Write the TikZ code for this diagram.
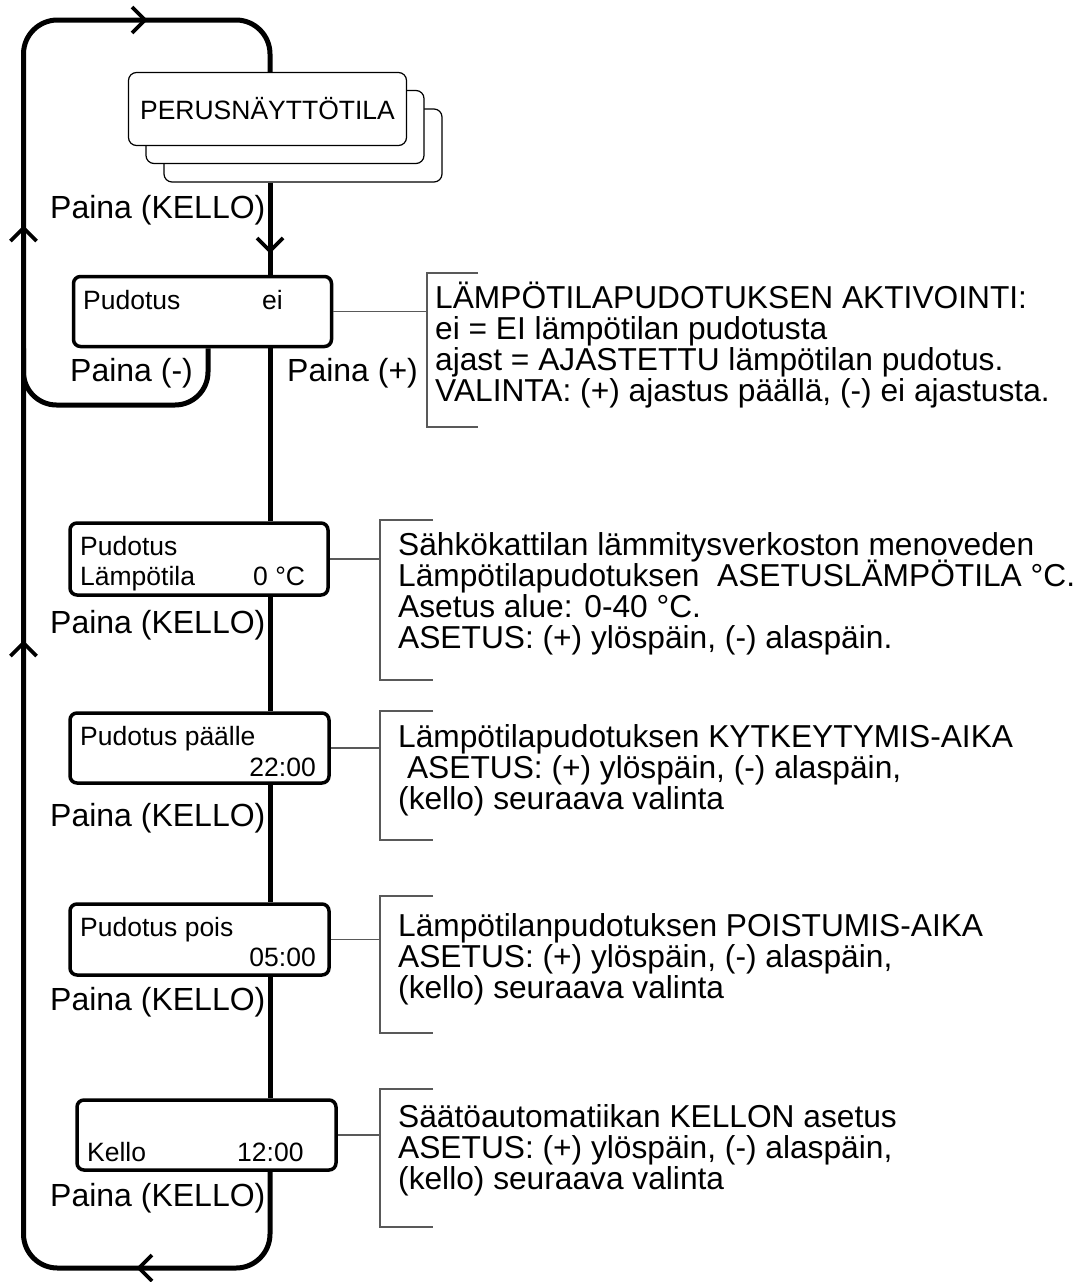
\documentclass[tikz,border=0pt]{standalone}
\usepackage{fontspec}
\setmainfont{Liberation Sans}
\usepackage{tikz}
\usetikzlibrary{calc,positioning}
\newcommand{\notefont}{\fontsize{31.7}{31}\selectfont\lineskiplimit=-20pt\relax}

\begin{document}
\begin{tikzpicture}[x=1pt,y=-1pt,
    loopline/.style={line width=5pt,rounded corners=34pt},
    chevron/.style={line width=3.8pt},
    lcd/.style={draw,line width=3.5pt,rounded corners=7pt,fill=white,inner sep=0pt},
    stackbox/.style={draw,line width=1.2pt,rounded corners=8pt,fill=white,
      minimum width=278pt,minimum height=73pt,inner sep=0pt},
    lcdtext/.style={inner sep=0pt,font=\fontsize{26.5}{30}\selectfont},
    paina/.style={inner sep=0pt,font=\fontsize{32}{32}\selectfont},
    note/.style={inner sep=0pt,align=left,font=\notefont},
    brk/.style={line width=1.5pt,draw=black!65}]
  \useasboundingbox (0,0) rectangle (1080,1282);
  \coordinate (spine) at (270,0);
  \coordinate (nw) at (23.5,20);
  \coordinate (sw) at (23.5,1268);
  \coordinate (minus) at (208,405);

  \node (perus3) at (303,145.5) [stackbox] {};
  \node (perus2) at (285,127) [stackbox] {};
  \node (perus) at (267.5,109) [stackbox,font=\fontsize{26.5}{30}\selectfont] {PERUSNÄYTTÖTILA};

  \node (pud) at (202.5,311.5) [lcd,minimum width=258pt,minimum height=70pt] {};
  \node (temp) at (199,559) [lcd,minimum width=258pt,minimum height=72pt] {};
  \node (on) at (199.5,748) [lcd,minimum width=259pt,minimum height=70pt] {};
  \node (off) at (199.5,939.5) [lcd,minimum width=259pt,minimum height=71pt] {};
  \node (kello) at (206.5,1135) [lcd,minimum width=259pt,minimum height=70pt] {};

  \node (pudl) at (83,309.5) [lcdtext,anchor=base west] {Pudotus};
  \node (pudr) at (262,309.5) [lcdtext,anchor=base west] {ei};
  \node (templ) at (80,555.5) [lcdtext,anchor=base west] {Pudotus};
  \node (templ2) at (80,585.5) [lcdtext,anchor=base west] {Lämpötila};
  \node (tempr) at (253,585.5) [lcdtext,anchor=base west] {0 °C};
  \node (onl) at (80,745.5) [lcdtext,anchor=base west] {Pudotus päälle};
  \node (onr) at (316,776.5) [lcdtext,anchor=base east] {22:00};
  \node (offl) at (80,936.5) [lcdtext,anchor=base west] {Pudotus pois};
  \node (offr) at (316,966.5) [lcdtext,anchor=base east] {05:00};
  \node (kellol) at (87,1161.5) [lcdtext,anchor=base west] {Kello};
  \node (kellor) at (237,1161.5) [lcdtext,anchor=base west] {12:00};

  \node (p1) at (50,218.5) [paina,anchor=base west] {Paina (KELLO)};
  \node (pminus) at (70,381.5) [paina,anchor=base west] {Paina (-)};
  \node (pplus) at (287,381.5) [paina,anchor=base west] {Paina (+)};
  \node (p2) at (50,633.5) [paina,anchor=base west] {Paina (KELLO)};
  \node (p3) at (50,826.5) [paina,anchor=base west] {Paina (KELLO)};
  \node (p4) at (50,1010.5) [paina,anchor=base west] {Paina (KELLO)};
  \node (p5) at (50,1206.5) [paina,anchor=base west] {Paina (KELLO)};

  \draw[loopline] (kello.south -| spine) |- (sw) -- (nw) -| (perus.north -| spine);
  \draw[loopline,rounded corners=33pt] (pud.south -| minus) |- (minus -| nw) -- (nw |- pud.south);
  \draw[line width=5pt] (perus3.south -| spine) -- (pud.north -| spine);
  \draw[line width=5pt] (pud.south -| spine) -- (temp.north -| spine);
  \draw[line width=5pt] (temp.south -| spine) -- (on.north -| spine);
  \draw[line width=5pt] (on.south -| spine) -- (off.north -| spine);
  \draw[line width=5pt] (off.south -| spine) -- (kello.north -| spine);

  \draw[chevron] (132,7) -- (145,20) -- (132,33);
  \draw[chevron] (10.5,241) -- (23.5,228) -- (36.5,241);
  \draw[chevron] (10.5,656) -- (23.5,643) -- (36.5,656);
  \draw[chevron] (257,238) -- (270,251) -- (283,238);
  \draw[chevron] (152,1255) -- (139,1268) -- (152,1281);

  \coordinate (b1) at (427,273);
  \coordinate (b2) at (380,520);
  \coordinate (b3) at (380,711);
  \coordinate (b4) at (380,896);
  \coordinate (b5) at (380,1089);
  \draw[brk] ($(b1)+(51,0)$) -- (b1) -- ++(0,154) -- ++(51,0);
  \draw[brk] ($(b2)+(53,0)$) -- (b2) -- ++(0,160) -- ++(53,0);
  \draw[brk] ($(b3)+(53,0)$) -- (b3) -- ++(0,129) -- ++(53,0);
  \draw[brk] ($(b4)+(53,0)$) -- (b4) -- ++(0,137) -- ++(53,0);
  \draw[brk] ($(b5)+(53,0)$) -- (b5) -- ++(0,138) -- ++(53,0);
  \draw[brk] (pud.east) -- (pud.east -| b1);
  \draw[brk] (temp.east) -- (temp.east -| b2);
  \draw[brk] (on.east) -- (on.east -| b3);
  \draw[brk] (off.east) -- (off.east -| b4);
  \draw[brk] (kello.east) -- (kello.east -| b5);

  \node (n1) at (435,401.5) [note,anchor=base west] {LÄMPÖTILAPUDOTUKSEN AKTIVOINTI:\\
    ei = EI lämpötilan pudotusta\\
    ajast = AJASTETTU lämpötilan pudotus.\\
    VALINTA: (+) ajastus päällä, (-) ei ajastusta.};
  \node (n2) at (398,648.5) [note,anchor=base west] {Sähkökattilan lämmitysverkoston menoveden\\
    Lämpötilapudotuksen\ \ ASETUSLÄMPÖTILA °C.\\
    Asetus alue: 0-40 °C.\\
    ASETUS: (+) ylöspäin, (-) alaspäin.};
  \node (n3) at (398,809.5) [note,anchor=base west] {Lämpötilapudotuksen KYTKEYTYMIS-AIKA\\
    \hspace*{0.28em}ASETUS: (+) ylöspäin, (-) alaspäin,\\
    (kello) seuraava valinta};
  \node (n4) at (398,998.5) [note,anchor=base west] {Lämpötilanpudotuksen POISTUMIS-AIKA\\
    ASETUS: (+) ylöspäin, (-) alaspäin,\\
    (kello) seuraava valinta};
  \node (n5) at (398,1189.5) [note,anchor=base west] {Säätöautomatiikan KELLON asetus\\
    ASETUS: (+) ylöspäin, (-) alaspäin,\\
    (kello) seuraava valinta};
\end{tikzpicture}
\end{document}
